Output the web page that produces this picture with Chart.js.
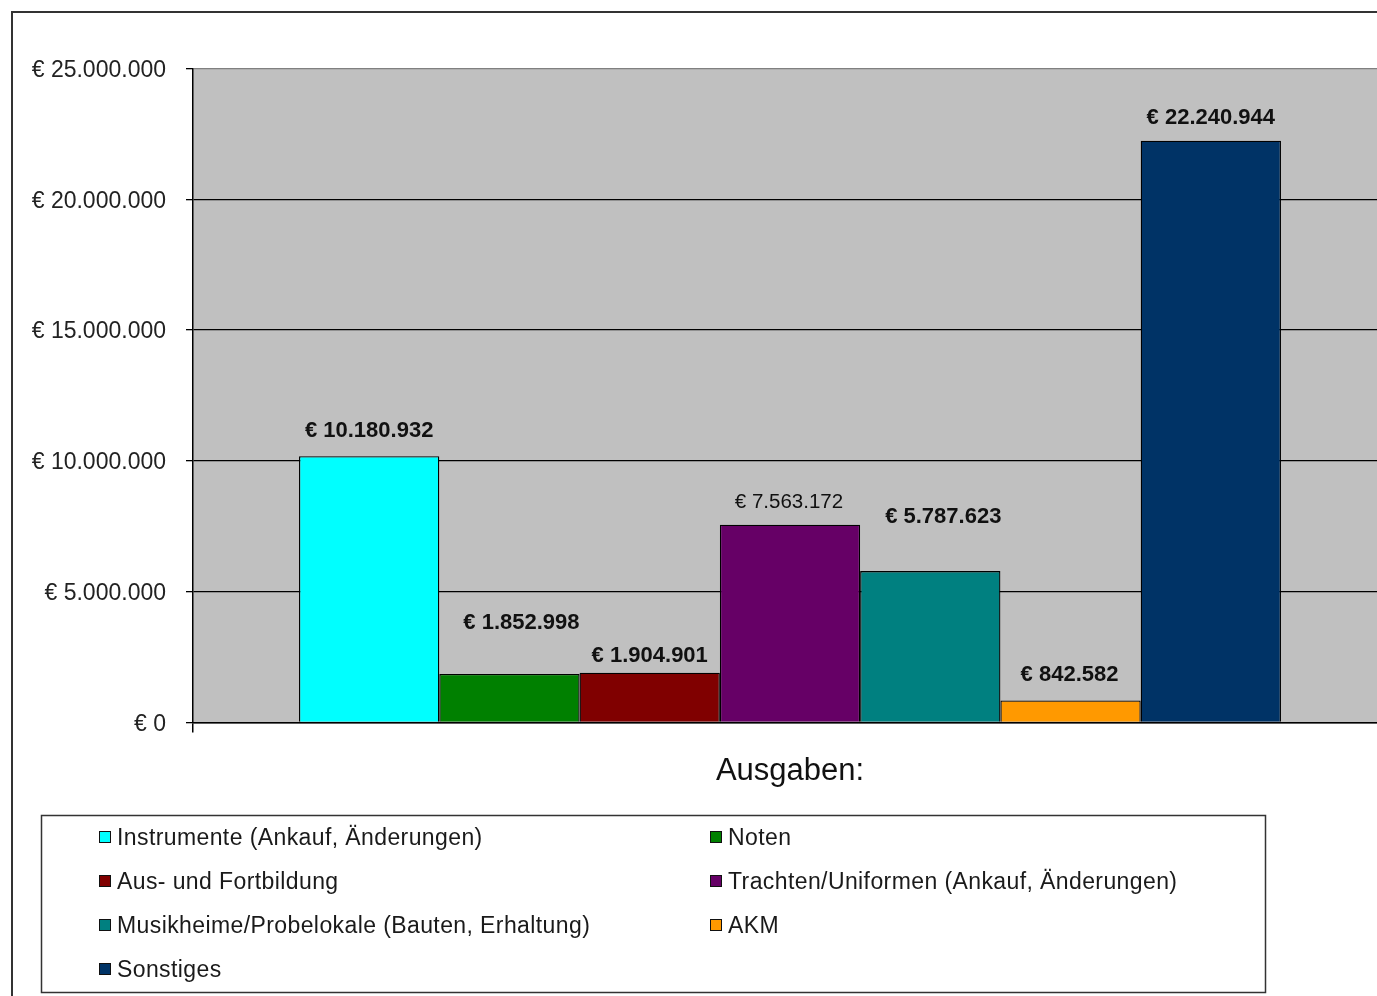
<!DOCTYPE html>
<html>
<head>
<meta charset="utf-8">
<script src="https://cdn.jsdelivr.net/npm/chart.js@4/dist/chart.umd.min.js"></script>
<style>
  html, body { margin: 0; padding: 0; background: #fff; overflow: hidden; }
  #wrap { width: 1390px; height: 996px; }
</style>
</head>
<body>
<div id="wrap"><canvas id="c" width="1390" height="996"></canvas></div>
<script>
// ---- data ----
const categories = ['Ausgaben:'];
const seriesLabels = [
  'Instrumente (Ankauf, Änderungen)',
  'Noten',
  'Aus- und Fortbildung',
  'Trachten/Uniformen (Ankauf, Änderungen)',
  'Musikheime/Probelokale (Bauten, Erhaltung)',
  'AKM',
  'Sonstiges'
];
const seriesValues = [10180932, 1852998, 1904901, 7563172, 5787623, 842582, 22240944];
const yTickValues = [0, 5000000, 10000000, 15000000, 20000000, 25000000];

// ---- styles ----
const seriesColors = ['#00FFFF', '#008000', '#800000', '#660066', '#008080', '#FF9900', '#003366'];
const labelOffsets = [[0, -25], [12, -51], [0, -17], [-1, -22], [13, -54], [-1, -26], [0, -23]];
const labelFonts = ['bold 22px', 'bold 22px', 'bold 22px', '20.5px', 'bold 22px', 'bold 22px', 'bold 22px'];
const FONT = '"Liberation Sans", Arial, sans-serif';

function euro(v) {
  const s = Math.round(v).toString().replace(/\B(?=(\d{3})+(?!\d))/g, '.');
  return '€ ' + s;
}

const bgPlugin = {
  id: 'bg',
  beforeDraw(chart) {
    const ctx = chart.ctx, a = chart.chartArea;
    ctx.save();
    ctx.fillStyle = '#fff';
    ctx.fillRect(0, 0, chart.width, chart.height);
    ctx.fillStyle = '#C0C0C0';
    ctx.fillRect(a.left, a.top, a.right - a.left, a.bottom - a.top);
    // outer frame
    ctx.strokeStyle = '#333';
    ctx.lineWidth = 2;
    ctx.strokeRect(12, 12, chart.width + 20, chart.height + 20);
    ctx.restore();
  }
};

const valueLabels = {
  id: 'valueLabels',
  afterDatasetsDraw(chart) {
    const ctx = chart.ctx;
    ctx.save();
    ctx.textAlign = 'center';
    ctx.textBaseline = 'middle';
    ctx.fillStyle = '#111';
    chart.data.datasets.forEach((ds, i) => {
      const el = chart.getDatasetMeta(i).data[0];
      if (!el) return;
      const [dx, dy] = labelOffsets[i];
      ctx.font = labelFonts[i] + ' ' + FONT;
      ctx.fillText(euro(ds.data[0]), el.x + dx, el.y + dy);
    });
    ctx.restore();
  }
};

const boxLegend = {
  id: 'boxLegend',
  afterDraw(chart) {
    const ctx = chart.ctx;
    ctx.save();
    ctx.strokeStyle = '#333';
    ctx.lineWidth = 1.5;
    ctx.strokeRect(41.5, 815.5, 1224, 177);
    ctx.font = '23px ' + FONT;
    ctx.textBaseline = 'middle';
    ctx.textAlign = 'left';
    try { ctx.letterSpacing = '0.4px'; } catch (e) {}
    const colX = [99, 710];
    const rowY = [837, 881, 925, 969];
    chart.data.datasets.forEach((ds, i) => {
      const x = colX[i % 2], y = rowY[Math.floor(i / 2)];
      ctx.fillStyle = ds.backgroundColor;
      ctx.fillRect(x, y - 6, 12, 12);
      ctx.strokeStyle = '#111';
      ctx.lineWidth = 1;
      ctx.strokeRect(x + 0.5, y - 5.5, 11, 11);
      ctx.fillStyle = '#1a1a1a';
      ctx.fillText(ds.label, x + 18, y + 2);
    });
    ctx.restore();
  }
};

const datasets = seriesLabels.map((lab, i) => ({
  label: lab,
  data: [seriesValues[i]],
  backgroundColor: seriesColors[i],
  borderColor: '#000',
  borderWidth: 1.3,
  categoryPercentage: 0.8224,
  barPercentage: 1.0
}));

new Chart(document.getElementById('c'), {
  type: 'bar',
  data: { labels: categories, datasets },
  options: {
    responsive: false,
    animation: false,
    layout: { padding: { left: 0, top: 68.5, right: 3, bottom: 0 } },
    plugins: {
      legend: { display: false },
      tooltip: { enabled: false }
    },
    scales: {
      x: {
        afterFit(scale) { scale.height = 273.5; },
        ticks: { display: false },
        grid: { display: true, drawOnChartArea: false, drawTicks: true, tickLength: 10, color: '#000', offset: true, lineWidth: 1.5 },
        border: { display: true, color: '#000', width: 1.5 },
        title: {
          display: true,
          text: 'Ausgaben:',
          color: '#111',
          font: { family: FONT, size: 31 },
          padding: { top: 0, bottom: 206 }
        }
      },
      y: {
        min: 0,
        max: 25000000,
        afterFit(scale) { scale.width = 193; },
        afterBuildTicks(scale) { scale.ticks = yTickValues.map(v => ({ value: v })); },
        ticks: {
          callback: v => euro(v),
          color: '#222',
          font: { family: FONT, size: 23 },
          padding: 20,
          labelOffset: 2
        },
        grid: {
          color: ctx => (ctx.tick && ctx.tick.value === 25000000) ? '#808080' : '#000',
          tickColor: '#000',
          lineWidth: 1.3,
          tickLength: 7
        },
        border: { display: true, color: '#000', width: 1.5 }
      }
    }
  },
  plugins: [bgPlugin, valueLabels, boxLegend]
});
</script>
</body>
</html>
